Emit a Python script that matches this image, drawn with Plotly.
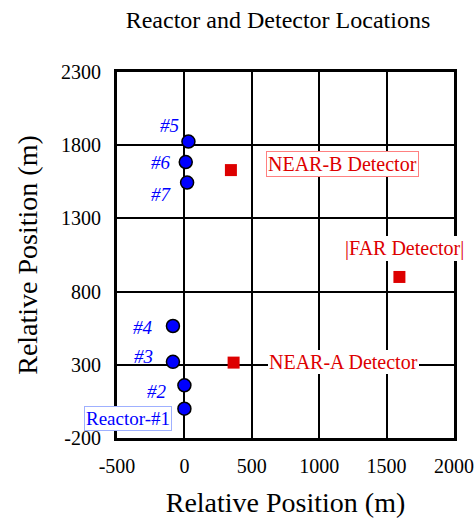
import plotly.graph_objects as go

# Reactor positions (m)
reactor_names = ["Reactor-#1", "#2", "#3", "#4", "#5", "#6", "#7"]
reactor_x = [0, 0, -85, -85, 30, 10, 20]
reactor_y = [0, 160, 320, 565, 1825, 1685, 1545]

# Detector positions (m)
detector_names = ["NEAR-A Detector", "NEAR-B Detector", "FAR Detector"]
detector_x = [365, 345, 1595]
detector_y = [315, 1630, 900]

# Label anchor positions (data coordinates)
reactor_label_x = [-415, -205, -305, -305, -110, -170, -170]
reactor_label_y = [-65, 115, 360, 555, 1935, 1680, 1465]
detector_label_x = [1178, 1174, 1636]
detector_label_y = [316, 1675, 1092]

x_ticks = [-500, 0, 500, 1000, 1500, 2000]
y_ticks = [-200, 300, 800, 1300, 1800, 2300]

serif = "Liberation Serif, Times New Roman, serif"

fig = go.Figure()
fig.add_trace(go.Scatter(
    x=reactor_x, y=reactor_y, mode="markers",
    marker=dict(symbol="circle", size=13, color="#0000ff",
                line=dict(color="black", width=1.5)),
    showlegend=False, hoverinfo="skip"))
fig.add_trace(go.Scatter(
    x=detector_x, y=detector_y, mode="markers",
    marker=dict(symbol="square", size=12, color="#dd0000",
                line=dict(width=0)),
    showlegend=False, hoverinfo="skip"))

for name, lx, ly in zip(reactor_names, reactor_label_x, reactor_label_y):
    boxed = name.startswith("Reactor")
    fig.add_annotation(
        x=lx, y=ly, text=name if boxed else "<i>%s</i>" % name,
        showarrow=False, font=dict(family=serif, size=19, color="#0000ff"),
        bgcolor="white" if boxed else "rgba(0,0,0,0)",
        bordercolor="#9fb0ff" if boxed else "rgba(0,0,0,0)",
        borderwidth=1 if boxed else 0, borderpad=1)

for name, lx, ly in zip(detector_names, detector_label_x, detector_label_y):
    if name.startswith("NEAR-B"):
        bc, bw, txt = "#ff8080", 1, name
    elif name.startswith("FAR"):
        bc, bw, txt = "rgba(0,0,0,0)", 0, "|" + name + "|"
    else:
        bc, bw, txt = "rgba(0,0,0,0)", 0, name
    fig.add_annotation(
        x=lx, y=ly, text=txt, showarrow=False,
        font=dict(family=serif, size=20, color="#dd0000"),
        bgcolor="white", bordercolor=bc, borderwidth=bw, borderpad=1)

axis_common = dict(
    showgrid=True, gridcolor="black", gridwidth=2,
    showline=True, linecolor="black", linewidth=3, mirror=True,
    zeroline=False, ticks="", tickfont=dict(family=serif, size=20, color="black"),
    automargin=False,
    title_font=dict(family=serif, size=28, color="black"),
)

fig.update_xaxes(range=[-500, 2000], tickvals=x_ticks,
                 ticktext=[str(v) for v in x_ticks], ticklabelstandoff=8,
                 title_text="Relative Position (m)", title_standoff=20,
                 **axis_common)
fig.update_yaxes(range=[-200, 2300], tickvals=y_ticks,
                 ticktext=[str(v) for v in y_ticks], ticklabelstandoff=9,
                 title_text="Relative Position (m)", title_standoff=16,
                 **axis_common)

fig.update_layout(
    width=476, height=518,
    margin=dict(l=117, r=22, t=72, b=80, autoexpand=False),
    paper_bgcolor="white", plot_bgcolor="white",
    title=dict(text="Reactor and Detector Locations", x=0.584, xanchor="center",
               y=1 - 20 / 518, yanchor="middle",
               font=dict(family=serif, size=24, color="black")),
)

fig.write_html("out.html")
